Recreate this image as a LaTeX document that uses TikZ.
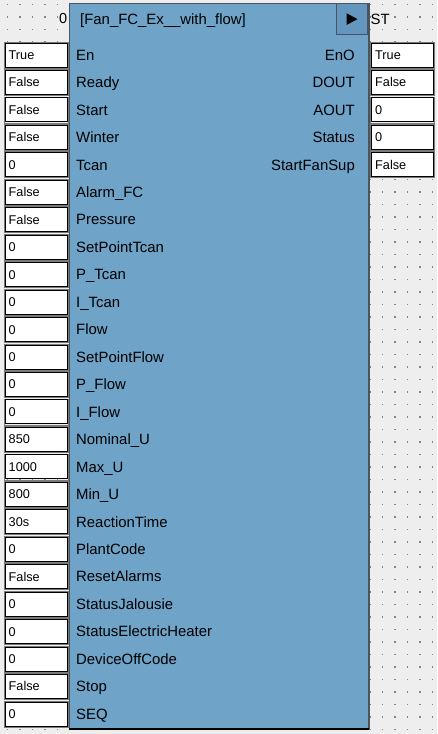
\documentclass[tikz,border=0pt]{standalone}
\usepackage{fontspec}
\setmainfont{Liberation Sans}
\definecolor{bg}{HTML}{EEEEEE}
\definecolor{dotc}{HTML}{858585}
\definecolor{blk}{HTML}{6FA3C8}
\definecolor{btn}{HTML}{6497BF}
\definecolor{edge}{HTML}{4A5560}
\definecolor{ring}{HTML}{7A7A7A}
\begin{document}
\begin{tikzpicture}[x=1pt,y=-1pt,
  lbl/.style={font=\fontsize{14.9}{16}\selectfont, inner sep=0pt, anchor=base west},
  rlbl/.style={lbl, anchor=base east},
  val/.style={font=\fontsize{12.7}{14}\selectfont, inner sep=0pt, anchor=base west},
  valbox/.style={draw=black, line width=1pt, fill=white, minimum width=62, minimum height=24, inner sep=0pt, outer sep=0pt},
  ringbox/.style={draw=ring, line width=0.7pt, minimum width=64, minimum height=26, inner sep=0pt, outer sep=0pt}]
\useasboundingbox (0,0) rectangle (437,734);
\fill[bg] (0,0) rectangle (437,734);
% dot grid
\foreach \i in {0,...,34}{
  \foreach \j in {0,...,58}{
    \fill[dotc] ({7.5+12.5*\i-0.9},{4.5+12.5*\j-0.9}) rectangle ++(1.8,1.8);
  }
}
% block
\node[draw=edge, fill=blk, line width=0.8pt, minimum width=299, minimum height=725, anchor=north west, inner sep=0pt] (blk) at (69,3) {};
\draw[edge, line width=2pt] (blk.north east) -- (blk.south east);
\draw[black, line width=1.4pt] (blk.south west) -- (blk.south east);
% run button
\node[draw=edge, fill=btn, line width=0.8pt, minimum width=31.5, minimum height=31, anchor=north east, inner sep=0pt] (btn) at (368,3.3) {};
\fill[black] (346.5,13.2) -- (357.5,19.1) -- (346.5,25) -- cycle;
% title texts
\node[lbl] (title) at (80,24.8) {[Fan\_FC\_Ex\_\_with\_flow]};
\node[rlbl, font=\fontsize{14.5}{16}\selectfont] (zero) at (67.5,23.5) {0};
\node[lbl] (st) at (370.5,24.2) {ST};
% inputs
\foreach \lab/\v [count=\k from 0] in {En/True, Ready/False, Start/False, Winter/False, Tcan/0, Alarm\_FC/False, Pressure/False, SetPointTcan/0, P\_Tcan/0, I\_Tcan/0, Flow/0, SetPointFlow/0, P\_Flow/0, I\_Flow/0, Nominal\_U/850, Max\_U/1000, Min\_U/800, ReactionTime/30s, PlantCode/0, ResetAlarms/False, StatusJalousie/0, StatusElectricHeater/0, DeviceOffCode/0, Stop/False, SEQ/0}{
  \pgfmathsetmacro{\c}{55+27.46*\k}
  \node[ringbox] (inr\k) at (36,\c) {};
  \node[valbox] (inb\k) at (36,\c) {};
  \node[val] (inv\k) at (8.5,\c+4.4) {\v};
  \node[lbl] (inl\k) at (76,\c+5.2) {\lab};
}
% outputs
\foreach \lab/\v [count=\k from 0] in {EnO/True, DOUT/False, AOUT/0, Status/0, StartFanSup/False}{
  \pgfmathsetmacro{\c}{55+27.46*\k}
  \node[ringbox] (outr\k) at (402,\c) {};
  \node[valbox] (outb\k) at (402,\c) {};
  \node[val] (outv\k) at (375,\c+4.4) {\v};
  \node[rlbl] (outl\k) at (355,\c+5.2) {\lab};
}
\end{tikzpicture}
\end{document}
